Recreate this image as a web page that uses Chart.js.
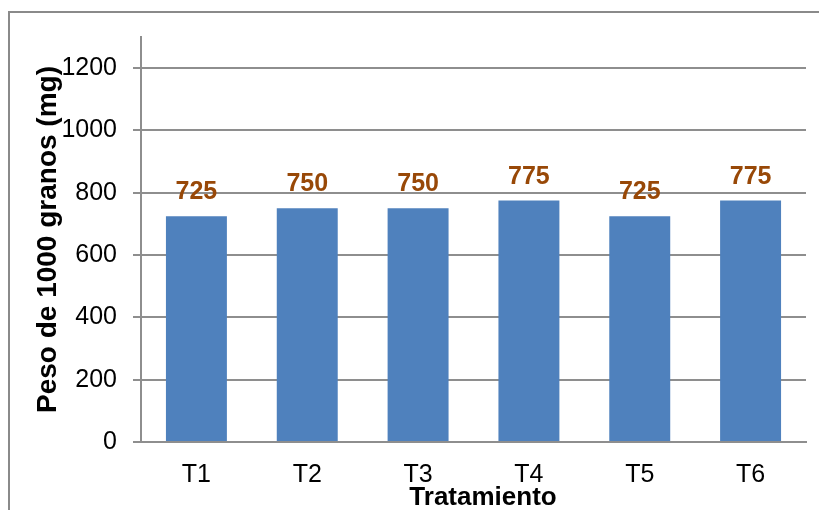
<!DOCTYPE html>
<html>
<head>
<meta charset="utf-8">
<script src="https://cdn.jsdelivr.net/npm/chart.js@4/dist/chart.umd.min.js"></script>
<style>
  html, body { margin: 0; padding: 0; background: #ffffff; }
  #wrap { width: 819px; height: 510px; position: relative; }
</style>
</head>
<body>
<div id="wrap"><canvas id="c" width="819" height="510"></canvas></div>
<script>
// Treatments and the weight of 1000 grains for each (mg)
const categories = ['T1', 'T2', 'T3', 'T4', 'T5', 'T6'];
const pesoMil = [725, 750, 750, 775, 725, 775];
const yTicks = [0, 200, 400, 600, 800, 1000, 1200];

const yTitle = 'Peso de 1000 granos (mg)';
const xTitle = 'Tratamiento';

const FONT = "'Liberation Sans', Arial, sans-serif";
const GRID = '#8e8e8e';
const BAR = '#4f81bd';
const LABEL = '#984807';

// Outer frame around the whole figure
const framePlugin = {
  id: 'frame',
  afterDraw(chart) {
    const ctx = chart.ctx;
    ctx.save();
    ctx.strokeStyle = '#8a8a8a';
    ctx.lineWidth = 2;
    ctx.strokeRect(9, 12, 900, 600);
    ctx.restore();
  }
};

// Value labels above each bar
const valueLabels = {
  id: 'valueLabels',
  afterDatasetsDraw(chart) {
    const ctx = chart.ctx;
    const meta = chart.getDatasetMeta(0);
    ctx.save();
    ctx.font = 'bold 25px ' + FONT;
    ctx.fillStyle = LABEL;
    ctx.textAlign = 'center';
    ctx.textBaseline = 'alphabetic';
    meta.data.forEach((bar, i) => {
      ctx.fillText(String(pesoMil[i]), bar.x, bar.y - 17);
    });
    ctx.restore();
  }
};

// Category axis title
const xTitlePlugin = {
  id: 'xTitle',
  afterDraw(chart) {
    const ctx = chart.ctx;
    ctx.save();
    ctx.font = 'bold 26px ' + FONT;
    ctx.fillStyle = '#000000';
    ctx.textAlign = 'center';
    ctx.textBaseline = 'alphabetic';
    ctx.fillText(xTitle, 483, 505);
    ctx.restore();
  }
};

new Chart(document.getElementById('c'), {
  type: 'bar',
  data: {
    labels: categories,
    datasets: [{
      data: pesoMil,
      backgroundColor: BAR,
      borderWidth: 0,
      barPercentage: 0.55,
      categoryPercentage: 1.0
    }]
  },
  options: {
    responsive: false,
    animation: false,
    devicePixelRatio: 1,
    layout: { padding: { top: 37, right: 13, bottom: 0, left: 0 } },
    plugins: {
      legend: { display: false },
      tooltip: { enabled: false }
    },
    scales: {
      x: {
        grid: { display: false },
        border: { display: true, color: GRID, width: 2 },
        ticks: {
          color: '#000000',
          font: { family: FONT, size: 25 },
          padding: 10,
          maxRotation: 0
        },
        afterFit(scale) { scale.height = 68; }
      },
      y: {
        min: 0,
        max: 1300,
        afterBuildTicks(scale) {
          scale.ticks = yTicks.map(v => ({ value: v }));
        },
        grid: {
          color: GRID,
          lineWidth: 2,
          drawTicks: true,
          tickLength: 8
        },
        border: { display: true, color: GRID, width: 2 },
        ticks: {
          color: '#000000',
          font: { family: FONT, size: 25 },
          padding: 16,
          includeBounds: false,
          callback: (v) => String(v)
        },
        title: {
          display: true,
          text: yTitle,
          color: '#000000',
          font: { family: FONT, size: 28, weight: 'bold' },
          padding: { top: 31, bottom: 0 }
        },
        afterFit(scale) { scale.width = 141; }
      }
    }
  },
  plugins: [framePlugin, valueLabels, xTitlePlugin]
});
</script>
</body>
</html>
